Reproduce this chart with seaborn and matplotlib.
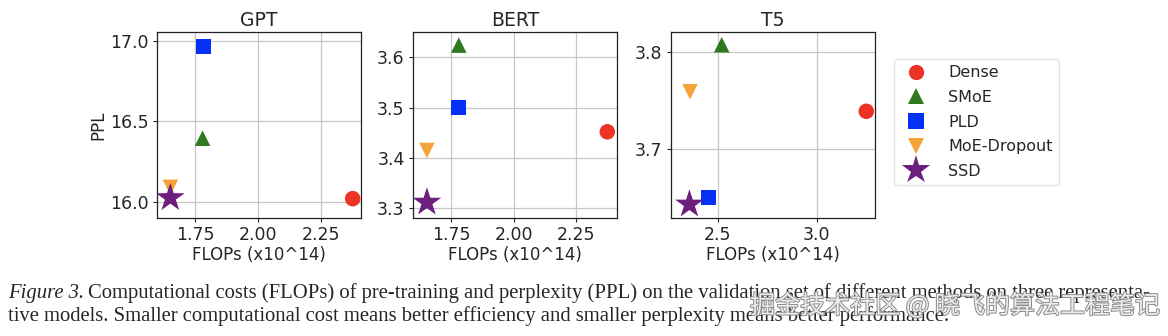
import matplotlib
matplotlib.use("Agg")
import matplotlib.pyplot as plt
import matplotlib.patheffects as pe
import seaborn as sns
import pandas as pd

methods = ["Dense", "SMoE", "PLD", "MoE-Dropout", "SSD"]
markers = ["o", "^", "s", "v", "*"]
colors = ["#ec3326", "#2f7a20", "#0530f5", "#f5a43a", "#6c1f7c"]
msizes = [125, 125, 115, 125, 470]

models = ["GPT", "BERT", "T5"]
gpt_flops = [2.376, 1.78, 1.783, 1.652, 1.652]
gpt_ppl = [16.02, 16.395, 16.963, 16.09, 16.025]
bert_flops = [2.377, 1.78, 1.78, 1.652, 1.652]
bert_ppl = [3.452, 3.624, 3.501, 3.415, 3.312]
t5_flops = [3.25, 2.52, 2.452, 2.36, 2.357]
t5_ppl = [3.739, 3.807, 3.651, 3.759, 3.644]

xlims = [(1.599, 2.409), (1.596, 2.416), (2.264, 3.294)]
ylims = [(15.90, 17.054), (3.281, 3.650), (3.630, 3.820)]
xticks = [[1.75, 2.00, 2.25], [1.75, 2.00, 2.25], [2.5, 3.0]]
yticks = [[16.0, 16.5, 17.0], [3.3, 3.4, 3.5, 3.6], [3.7, 3.8]]
xfmt = ["{:.2f}", "{:.2f}", "{:.1f}"]

sns.set_style("white")
plt.rcParams["font.family"] = ["DejaVu Sans"]

W, H = 1168, 336
fig = plt.figure(figsize=(W / 100, H / 100), dpi=100)

lefts = [157, 413, 671]
data = [(gpt_flops, gpt_ppl), (bert_flops, bert_ppl), (t5_flops, t5_ppl)]
for i, (xs, ys) in enumerate(data):
    ax = fig.add_axes([lefts[i] / W, 1 - 218 / H, 204 / W, 186 / H])
    ax.grid(True, color="#c8c8c8", linewidth=0.9, zorder=0)
    ax.set_axisbelow(True)
    for j, m in enumerate(methods):
        df = pd.DataFrame({"FLOPs": [xs[j]], "PPL": [ys[j]]})
        sns.scatterplot(data=df, x="FLOPs", y="PPL", ax=ax, marker=markers[j],
                        s=msizes[j], color=colors[j], edgecolor="none",
                        zorder=3, legend=False)
    ax.set_xlim(*xlims[i])
    ax.set_ylim(*ylims[i])
    ax.set_xticks(xticks[i])
    ax.set_xticklabels([xfmt[i].format(t) for t in xticks[i]])
    ax.set_yticks(yticks[i])
    ax.set_yticklabels(["{:.1f}".format(t) for t in yticks[i]])
    ax.tick_params(labelsize=12.5, length=3, width=0.8, left=True, bottom=True, pad=3)
    for s in ax.spines.values():
        s.set_color("#222222")
        s.set_linewidth(0.9)
    ax.set_title(models[i], fontsize=13.5, pad=4)
    ax.set_xlabel("FLOPs (x10^14)", fontsize=12, labelpad=1)
    ax.set_ylabel("PPL" if i == 0 else "", fontsize=12, labelpad=2)

handles = [plt.Line2D([], [], linestyle="none", marker=markers[j], color=colors[j],
                      markersize=(11 if j < 4 else 21), markeredgewidth=0)
           for j in range(len(methods))]
fig.legend(handles, methods, loc="upper left",
           bbox_to_anchor=(894 / W, 1 - 59 / H), fontsize=11.5,
           frameon=True, edgecolor="#dddddd", handletextpad=1.0,
           labelspacing=0.6, borderpad=0.4, handlelength=2.0,
           borderaxespad=0.0)

# caption
fig.canvas.draw()
r = fig.canvas.get_renderer()
cap_size = 14.9
t1 = fig.text(8 / W, 1 - 298 / H, "Figure 3.", family="Liberation Serif",
              style="italic", fontsize=cap_size, va="baseline")
bb = t1.get_window_extent(r)
fig.text((bb.x1 + 4) / W, 1 - 298 / H,
         "Computational costs (FLOPs) of pre-training and perplexity (PPL) on the validation set of different methods on three representa-",
         family="Liberation Serif", fontsize=cap_size, va="baseline")
fig.text(8 / W, 1 - 321 / H,
         "tive models. Smaller computational cost means better efficiency and smaller perplexity means better performance.",
         family="Liberation Serif", fontsize=cap_size, va="baseline")

fig.text(1160 / W, 1 - 306 / H, "掘金技术社区 @ 晓飞的算法工程笔记",
         family=["Noto Sans CJK SC", "DejaVu Sans"], fontsize=18, color="#ececec",
         ha="right", va="center",
         path_effects=[pe.withStroke(linewidth=1.4, foreground="#8c8c8c")])

fig.savefig("out.png", dpi=100)
